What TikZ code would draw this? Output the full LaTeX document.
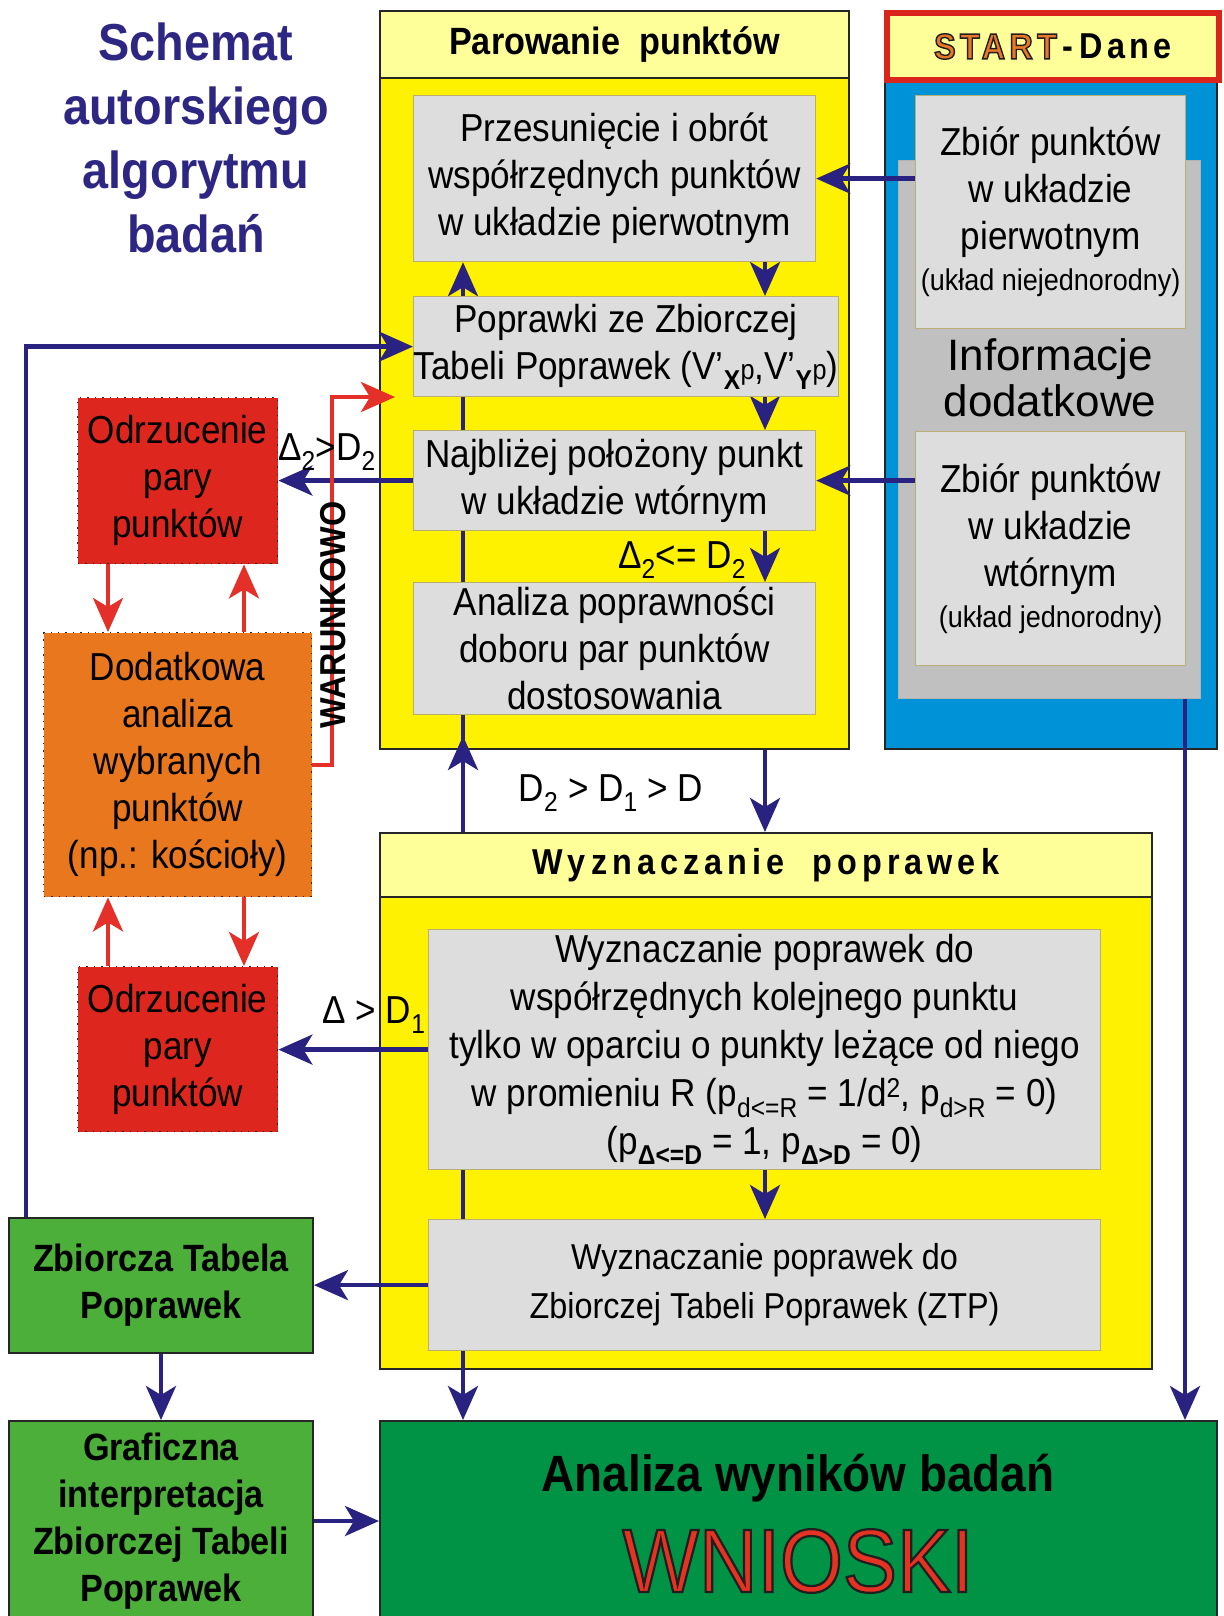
\documentclass[tikz,border=0pt]{standalone}
\usepackage{fontspec}
\setmainfont{Liberation Sans}[FakeStretch=0.9]
\newfontfamily\wideface{Liberation Sans}
\usepackage{xcolor}
\usetikzlibrary{arrows.meta,calc}

% filled text with a dark outline
\newcommand\outlined[2]{\special{pdf:code 2 Tr #1 w 0.12 0.12 0.12 RG}#2\special{pdf:code 0 Tr}}

\definecolor{navy}{RGB}{42,34,128}
\definecolor{titlenavy}{RGB}{45,38,130}
\definecolor{panelyellow}{RGB}{255,242,0}
\definecolor{headyellow}{RGB}{255,255,153}
\definecolor{boxgray}{RGB}{221,221,221}
\definecolor{boxedge}{RGB}{185,175,115}
\definecolor{dataBlue}{RGB}{0,146,214}
\definecolor{infogray}{RGB}{192,192,192}
\definecolor{startred}{RGB}{218,37,29}
\definecolor{rejred}{RGB}{221,39,30}
\definecolor{extraorange}{RGB}{232,119,30}
\definecolor{ztpgreen}{RGB}{76,175,58}
\definecolor{finalgreen}{RGB}{0,146,69}
\definecolor{loopred}{RGB}{228,48,40}
\definecolor{startorange}{RGB}{232,120,40}
\definecolor{wnioskired}{RGB}{230,50,35}

\pgfdeclarelayer{back}
\pgfdeclarelayer{front}
\pgfsetlayers{back,main,front}

\tikzset{
  panelbody/.style={draw=black!85, line width=2pt, fill=panelyellow, anchor=north west, inner sep=0pt},
  panelhead/.style={panelbody, fill=headyellow, font=\bfseries\fontsize{38}{38}\selectfont},
  graybox/.style={draw=boxedge, line width=1.2pt, fill=boxgray, anchor=north west, inner sep=0pt,
    align=center, font=\fontsize{39}{47}\selectfont},
  rejectbox/.style={fill=rejred, draw=black!85, line width=1.4pt, dash pattern=on 1.4pt off 6pt,
    anchor=north west, inner sep=0pt, align=center, font=\fontsize{39}{47}\selectfont},
  greenbox/.style={fill=ztpgreen, draw=black!85, line width=2pt, anchor=north west, inner sep=0pt,
    align=center, font=\bfseries\fontsize{38}{47}\selectfont},
  navyarrow/.style={draw=navy, line width=4.5pt, -{Stealth[length=34pt,width=30pt,inset=9pt]}},
  redarrow/.style={navyarrow, draw=loopred},
  condlabel/.style={font=\fontsize{39}{39}\selectfont, inner sep=0pt}
}

\begin{document}
\begin{tikzpicture}[x=1pt,y=-1pt]
\useasboundingbox (0,0) rectangle (1223,1616);

% Title
\node[font=\bfseries\fontsize{52}{64}\selectfont, text=titlenavy, align=center] (title) at (196,138)
  {Schemat\\autorskiego\\algorytmu\\badań};

% Panels
\begin{pgfonlayer}{back}
  \node[panelbody, minimum width=469pt, minimum height=671pt] (parbody) at (379,77) {};
  \node[panelhead, minimum width=469pt, minimum height=67pt] (parhead) at (379,10) {Parowanie\ \ punktów};

  \node[panelbody, fill=dataBlue, minimum width=332pt, minimum height=671pt] (databody) at (884,77) {};
  \node[panelhead, draw=startred, line width=6pt, minimum width=332pt, minimum height=67pt,
    font=\bfseries\fontsize{36}{36}\selectfont\addfontfeature{LetterSpace=12}] (datahead) at (884,10)
    {{\color{startorange}\outlined{1.4}{START}}\,-\,Dane};
  \node[anchor=north west, fill=infogray, draw=black!30, line width=1pt, inner sep=0pt,
    minimum width=302pt, minimum height=538pt] (info) at (898,160) {};

  \node[panelbody, minimum width=772pt, minimum height=472pt] (wyzbody) at (379,896) {};
  \node[panelhead, minimum width=772pt, minimum height=64pt,
    font=\bfseries\fontsize{36}{36}\selectfont\addfontfeature{LetterSpace=14}] (wyzhead) at (379,832)
    {Wyznaczanie\ \ poprawek};
\end{pgfonlayer}

\node[font=\wideface\fontsize{44}{46}\selectfont, align=center] (infotext) at (1050,378) {Informacje\\dodatkowe};

% Boxes
\begin{pgfonlayer}{front}
  \node[graybox, minimum width=402pt, minimum height=166pt] (przes) at (413,95)
    {Przesunięcie i obrót\\współrzędnych punktów\\w układzie pierwotnym};
  \node[graybox, minimum width=402pt, minimum height=100pt] (popr) at (413,296)
    {Poprawki ze Zbiorczej\\Tabeli Poprawek (V’\textsubscript{\textbf{X}}{\fontsize{28}{28}\selectfont p},V’\textsubscript{\textbf{Y}}{\fontsize{28}{28}\selectfont p})};
  \node[graybox, minimum width=402pt, minimum height=100pt] (najbl) at (413,430)
    {Najbliżej położony punkt\\w układzie wtórnym};
  \node[graybox, minimum width=402pt, minimum height=132pt] (anal) at (413,582)
    {Analiza poprawności\\doboru par punktów\\dostosowania};

  \node[graybox, minimum width=270pt, minimum height=233pt] (zb1) at (915,95)
    {Zbiór punktów\\w układzie\\pierwotnym\\[-6pt]{\fontsize{30}{34}\selectfont(układ niejednorodny)}};
  \node[graybox, minimum width=270pt, minimum height=234pt] (zb2) at (915,431)
    {Zbiór punktów\\w układzie\\wtórnym\\[-6pt]{\fontsize{30}{34}\selectfont(układ jednorodny)}};

  \node[graybox, minimum width=672pt, minimum height=240pt, font=\fontsize{39}{48}\selectfont] (wyz1) at (428,929)
    {Wyznaczanie poprawek do\\współrzędnych kolejnego punktu\\tylko w oparciu o punkty leżące od niego\\
     w promieniu R (p\textsubscript{d<=R} = 1/d\textsuperscript{2}, p\textsubscript{d>R} = 0)\\
     (p\textsubscript{\textbf{Δ<=D}} = 1, p\textsubscript{\textbf{Δ>D}} = 0)};
  \node[graybox, minimum width=672pt, minimum height=131pt, font=\fontsize{36}{49}\selectfont] (wyz2) at (428,1219)
    {Wyznaczanie poprawek do\\Zbiorczej Tabeli Poprawek (ZTP)};
\end{pgfonlayer}

\node[rejectbox, minimum width=200pt, minimum height=166pt] (odrz1) at (77,397) {Odrzucenie\\pary\\punktów};
\node[rejectbox, fill=extraorange, minimum width=268pt, minimum height=264pt] (dodat) at (43,632)
  {Dodatkowa\\analiza\\wybranych\\punktów\\(np.: kościoły)};
\node[rejectbox, minimum width=200pt, minimum height=165pt] (odrz2) at (77,966) {Odrzucenie\\pary\\punktów};

\node[greenbox, minimum width=304pt, minimum height=135pt] (ztp) at (8,1217) {Zbiorcza Tabela\\Poprawek};
\node[greenbox, minimum width=304pt, minimum height=200pt] (grafic) at (8,1420)
  {Graficzna\\interpretacja\\Zbiorczej Tabeli\\Poprawek};
\node[greenbox, fill=finalgreen, minimum width=837pt, minimum height=200pt] (wnioski) at (379,1420) {};
\node[font=\bfseries\fontsize{51}{51}\selectfont] (wntitle) at (798,1478) {Analiza wyników badań};
\node[font=\fontsize{90}{90}\selectfont] (wnword) at (798,1561) {{\color{wnioskired}\outlined{2.2}{WNIOSKI}}};

% Helper coordinates
\coordinate (lx) at (463,0);
\coordinate (rx) at (765,0);
\coordinate (loopx) at (26,0);
\coordinate (outx) at (1185,0);
\coordinate (lredx) at (108,0);
\coordinate (rredx) at (244,0);
\coordinate (redx) at (332,0);
\coordinate (redy) at (0,765);
\coordinate (redtip) at (395,397);

% Input data
\draw[navyarrow] (zb1.west |- przes.east) -- (przes.east);
\draw[navyarrow] (zb2.west |- najbl.east) -- (najbl.east);

% Pairing flow
\draw[navyarrow] (rx |- przes.south) -- (rx |- popr.north);
\draw[navyarrow] (rx |- popr.south) -- (rx |- najbl.north);
\draw[navyarrow] (rx |- najbl.south) -- (rx |- anal.north);
\draw[navyarrow] (rx |- parbody.south) -- (rx |- wyzhead.north);
\draw[navyarrow] (lx |- wyzhead.north) -- ($(lx |- parbody.south)+(0,-14)$);
\draw[navyarrow] (lx |- parbody.south) -- (lx |- przes.south);
\draw[navyarrow] (najbl.west) -- (odrz1.east |- najbl.west);

% Corrections flow
\draw[navyarrow] (wyz1.west) -- (odrz2.east |- wyz1.west);
\draw[navyarrow] (rx |- wyz1.south) -- (rx |- wyz2.north);
\draw[navyarrow] (lx |- wyz1.south) -- (lx |- wnioski.north);
\draw[navyarrow] (wyz2.west) -- (ztp.east |- wyz2.west);
\draw[navyarrow] (ztp.south) -- (grafic.north);
\draw[navyarrow] (grafic.east) -- (wnioski.west |- grafic.east);
\draw[navyarrow] (loopx |- ztp.north) -- (loopx |- popr.west) -- (popr.west);
\draw[navyarrow] (outx |- info.south) -- (outx |- wnioski.north);

% Rejected pairs
\draw[redarrow] (lredx |- odrz1.south) -- (lredx |- dodat.north);
\draw[redarrow] (rredx |- dodat.north) -- (rredx |- odrz1.south);
\draw[redarrow] (rredx |- dodat.south) -- (rredx |- odrz2.north);
\draw[redarrow] (lredx |- odrz2.north) -- (lredx |- dodat.south);
\draw[redarrow] (dodat.east |- redy) -| (redx |- redtip) -- (redtip);

% Conditions
\node[condlabel] (cond1) at (327,452) {Δ\textsubscript{2}>D\textsubscript{2}};
\node[condlabel] (cond2) at (682,560) {Δ\textsubscript{2}<= D\textsubscript{2}};
\node[condlabel] (cond3) at (611,793) {D\textsubscript{2} > D\textsubscript{1} > D};
\node[condlabel] (cond4) at (374,1015) {Δ > D\textsubscript{1}};
\node[rotate=90, font=\bfseries\fontsize{36}{36}\selectfont, inner sep=0pt] (warunek) at (333,615) {WARUNKOWO};
\end{tikzpicture}
\end{document}
